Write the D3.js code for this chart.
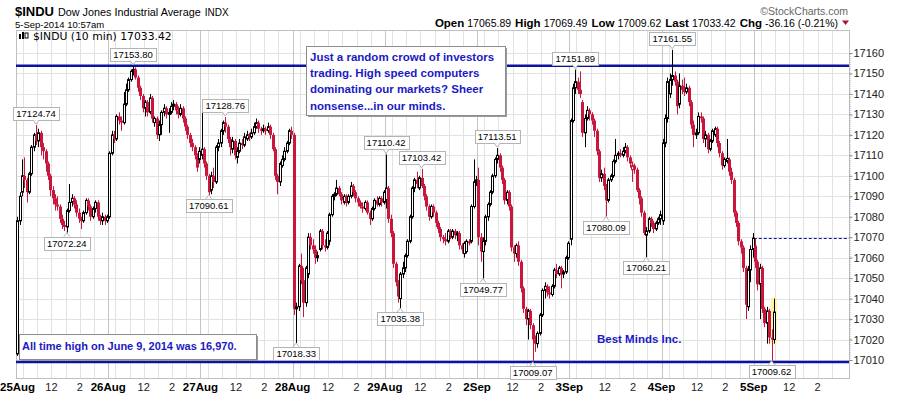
<!DOCTYPE html>
<html>
<head>
<meta charset="utf-8">
<script src="https://cdn.jsdelivr.net/npm/d3@7/dist/d3.min.js"></script>
<style>
  body { margin: 0; background: #fff; }
  svg text { font-family: "Liberation Sans", Arial, sans-serif; }
</style>
</head>
<body>
<div id="chart"></div>
<script>
// ---- data: 10 minute bars, [open, high, low, close] ----
const days = ["25Aug", "26Aug", "27Aug", "28Aug", "29Aug", "2Sep", "3Sep", "4Sep", "5Sep"];
const barsPerDay = 39;
const prevClose = 17001.22;

const aug25 = [
  [17013,17080,17012,17078],[17078,17092,17076,17090],[17092,17108,17090,17100],[17100,17109,17094,17098],
  [17098,17099,17087,17092],[17092,17102,17091,17101],[17101,17115,17100,17114],[17114,17121,17112,17120],
  [17120,17124.74,17115,17117],[17117,17123,17114,17121],[17121,17122,17110,17114],[17114,17116,17108,17112],
  [17112,17113,17102,17106],[17106,17107,17098,17100],[17100,17101,17090,17093],[17093,17095,17086,17089],
  [17089,17091,17083,17086],[17086,17090,17083,17085],[17085,17086,17077,17079],[17079,17081,17074,17076],
  [17076,17078,17073,17075],[17075,17084,17072.24,17083],[17083,17096,17082,17087],[17087,17091,17085,17089],
  [17089,17090,17084,17086],[17086,17088,17080,17082],[17082,17084,17077,17079],[17079,17080,17074,17078],
  [17078,17083,17077,17082],[17082,17089,17081,17088],[17088,17089,17083,17085],[17085,17086,17078,17080],
  [17080,17085,17079,17084],[17084,17088,17082,17087],[17087,17088,17078,17080],[17080,17081,17076,17078],
  [17078,17082,17076,17080],[17080,17081,17076,17078],[17078,17081,17077,17080]
];
const aug26 = [
  [17080,17112,17079,17111],[17111,17122,17110,17120],[17120,17122,17116,17118],[17118,17130,17117,17129],
  [17129,17131,17125,17127],[17127,17129,17122,17126],[17126,17141,17125,17135],[17135,17145,17134,17142],
  [17142,17148,17141,17147],[17147,17152,17146,17151],[17151,17153.80,17149,17152],[17152,17153,17147,17148],
  [17148,17149,17141,17143],[17143,17144,17137,17139],[17139,17140,17131,17133],[17133,17137,17129,17136],
  [17136,17137,17129,17131],[17131,17140,17130,17138],[17138,17139,17126,17128],[17126,17129,17124,17128],
  [17128,17129,17118,17120],[17120,17127,17117,17125],[17125,17132,17120,17131],[17131,17135,17129,17133],
  [17133,17134,17128,17130],[17130,17133,17121,17131],[17131,17136,17130,17134],[17134,17137,17132,17135],
  [17135,17136,17130,17132],[17132,17134,17128,17130],[17130,17135,17129,17133],[17133,17134,17126,17128],
  [17128,17129,17122,17124],[17124,17125,17118,17120],[17120,17121,17114,17116],[17116,17118,17112,17114],
  [17114,17115,17108,17110],[17110,17111,17102,17104],[17108,17114,17106,17112]
];
const aug27 = [
  [17110,17136,17108,17113],[17113,17114,17104,17106],[17106,17107,17098,17100],[17100,17101,17090.61,17092],
  [17093,17102,17091,17100],[17100,17104,17094,17097],[17097,17115,17096,17114],[17114,17118,17112,17116],
  [17116,17123,17114,17122],[17122,17127,17120,17126],[17126,17128.76,17121,17124],[17124,17125,17116,17118],
  [17118,17119,17110,17114],[17113,17119,17111,17117],[17117,17118,17108,17110],[17109,17114,17106,17112],
  [17112,17118,17111,17116],[17116,17118,17113,17115],[17115,17121,17114,17119],[17118,17122,17117,17120],
  [17120,17121,17117,17119],[17119,17123,17118,17121],[17121,17126,17120,17124],[17124,17128,17123,17126],
  [17126,17127,17121,17123],[17123,17124,17120,17122],[17122,17125,17121,17123],[17123,17124,17120,17122],
  [17122,17126,17121,17124],[17124,17125,17118,17120],[17120,17121,17112,17113],[17113,17114,17098,17100],
  [17100,17101,17091,17097],[17097,17107,17095,17106],[17105,17110,17104,17108],[17108,17114,17107,17112],
  [17112,17117,17111,17116],[17116,17123,17115,17122],[17122,17124,17118,17120]
];
const aug28 = [
  [17120,17121,17032,17035],[17035,17038,17018.33,17036],[17036,17057,17034,17056],[17056,17062,17047,17049],
  [17049,17055,17031,17038],[17038,17056,17036,17055],[17052,17072,17050,17070],[17070,17072,17064,17066],
  [17066,17069,17062,17064],[17064,17066,17057,17060],[17060,17063,17058,17061],[17064,17074,17063,17073],
  [17073,17074,17064,17066],[17066,17069,17063,17065],[17065,17073,17064,17072],[17068,17082,17066,17081],
  [17081,17091,17080,17090],[17090,17092,17088,17091],[17091,17098,17090,17094],[17094,17095,17090,17091],
  [17091,17092,17086,17088],[17087,17091,17086,17090],[17090,17091,17085,17087],[17087,17091,17086,17090],
  [17090,17097,17089,17095],[17095,17096,17090,17092],[17092,17093,17087,17089],[17089,17090,17085,17087],
  [17087,17088,17084,17085],[17085,17087,17082,17084],[17084,17088,17083,17087],[17087,17088,17081,17082],
  [17082,17083,17076,17079],[17079,17085,17078,17084],[17084,17089,17083,17088],[17088,17090,17085,17086],
  [17086,17090,17085,17089],[17089,17090,17085,17087],[17087,17093,17086,17092]
];
const aug29 = [
  [17088,17110.42,17084,17094],[17094,17095,17077,17079],[17079,17081,17070,17072],[17072,17073,17055,17057],
  [17057,17058,17046,17048],[17048,17049,17038,17041],[17040,17053,17035.38,17052],[17052,17058,17050,17055],
  [17055,17062,17053,17061],[17061,17069,17060,17068],[17068,17081,17067,17080],[17080,17095,17079,17094],
  [17094,17099,17092,17098],[17098,17102,17094,17096],[17094,17100,17093,17099],[17099,17103.42,17094,17095],
  [17095,17096,17088,17090],[17090,17091,17083,17085],[17085,17086,17078,17080],[17080,17086,17079,17085],
  [17085,17086,17080,17082],[17082,17083,17075,17077],[17077,17078,17072,17074],[17074,17075,17068,17070],
  [17070,17071,17067,17069],[17069,17072,17066,17068],[17068,17074,17067,17073],[17073,17074,17069,17071],
  [17070,17074,17069,17073],[17073,17074,17069,17071],[17071,17073,17068,17072],[17072,17073,17064,17066],
  [17066,17067,17062,17064],[17062,17068,17060,17067],[17063,17069,17062,17068],[17068,17069,17066,17067],
  [17068,17086,17067,17085],[17085,17108,17084,17097],[17097,17100,17095,17098]
];
const sep2 = [
  [17098,17104,17066,17070],[17070,17072,17058,17063],[17063,17070,17049.77,17068],[17068,17081,17066,17080],
  [17080,17087,17078,17086],[17086,17093,17085,17092],[17092,17101,17091,17100],[17100,17109,17099,17108],
  [17108,17113.51,17106,17110],[17110,17111,17102,17104],[17104,17105,17096,17098],[17098,17099,17086,17088],
  [17088,17093,17086,17092],[17092,17093,17083,17085],[17085,17086,17063,17065],[17065,17066,17058,17062],
  [17062,17067,17060,17066],[17066,17068,17056,17058],[17058,17059,17043,17045],[17045,17046,17033,17035],
  [17035,17036,17027,17030],[17030,17035,17020,17034],[17034,17035,17025,17027],[17027,17028,17009.07,17020],
  [17020,17022,17014,17018],[17018,17024,17016,17023],[17023,17033,17022,17032],[17032,17045,17031,17044],
  [17044,17048,17040,17046],[17046,17047,17041,17043],[17043,17046,17040,17042],[17042,17047,17041,17046],
  [17046,17055,17045,17054],[17054,17057,17050,17052],[17052,17056,17051,17055],[17055,17056,17045,17052],
  [17052,17054,17050,17053],[17053,17061,17052,17060],[17060,17068,17059,17067]
];
const sep3 = [
  [17069,17128,17066,17127],[17127,17145,17126,17143],[17143,17151.89,17140,17146],[17146,17148,17140,17142],
  [17142,17151,17138,17140],[17136,17137,17119,17121],[17121,17130,17114,17128],[17128,17134,17127,17132],
  [17132,17133,17127,17130],[17130,17131,17125,17127],[17127,17128,17119,17122],[17122,17123,17110,17112],
  [17112,17113,17097,17099],[17099,17103,17097,17101],[17101,17104,17093,17095],[17095,17096,17080.09,17088],
  [17088,17099,17087,17098],[17098,17101,17097,17100],[17100,17108,17099,17107],[17107,17118,17106,17110],
  [17110,17112,17108,17111],[17111,17113,17109,17110],[17110,17114,17109,17112],[17112,17116,17111,17114],
  [17114,17115,17107,17109],[17109,17110,17104,17106],[17103,17107,17097,17105],[17105,17106,17101,17103],
  [17103,17104,17092,17093],[17093,17094,17086,17089],[17089,17090,17080,17082],[17082,17083,17071,17072],
  [17071,17075,17060.21,17073],[17073,17080,17072,17079],[17079,17080,17075,17077],[17077,17078,17072,17074],
  [17074,17078,17073,17077],[17077,17080,17076,17079],[17079,17083,17076,17081]
];
const sep4 = [
  [17078,17118,17076,17116],[17116,17130,17114,17128],[17128,17148,17126,17146],[17140,17150,17138,17147],
  [17147,17161.55,17144,17149],[17149,17151,17144,17146],[17146,17147,17130,17134],[17135,17150,17133,17144],
  [17144,17147,17140,17142],[17142,17148,17139,17141],[17141,17145,17140,17143],[17143,17144,17134,17136],
  [17136,17137,17123,17125],[17125,17127,17114,17120],[17120,17123,17118,17121],[17121,17131,17120,17129],
  [17129,17131,17126,17128],[17128,17129,17116,17118],[17118,17122,17114,17120],[17120,17121,17111,17113],
  [17113,17118,17112,17117],[17117,17123,17116,17122],[17120,17124,17119,17123],[17123,17124,17114,17116],
  [17116,17117,17109,17111],[17111,17112,17103,17105],[17105,17109,17104,17108],[17107,17118,17106,17108.5],
  [17108,17109,17100,17102],[17102,17104,17096,17098],[17098,17099,17080,17082],[17082,17083,17075,17077],
  [17077,17078,17066,17068],[17068,17069,17062,17065],[17065,17066,17053,17055],[17055,17056,17030,17037],
  [17036,17056,17034,17054],[17054,17066,17048,17064],[17064,17072,17060,17069.58]
];
const sep5 = [
  [17065.89,17069.49,17055,17058],[17058,17059,17044,17047],[17047,17057,17030,17055],[17055,17056,17033,17035],
  [17035,17036,17026,17028],[17028,17036,17018,17034],[17034,17035,17018,17021],[17021,17025,17009.62,17020],
  [17020,17040,17018,17033.42]
];

// bars that carry a high / low value label
const highLabelBars = [8, 49, 88, 156, 171, 203, 236, 277];
const lowLabelBars = [21, 81, 118, 162, 197, 218, 249, 266, 319];

// reference lines
const topLine = 17153.80;
const bottomLine = 17009.07;
const priorClose = 17069.58;

const yTicks = [17010, 17020, 17030, 17040, 17050, 17060, 17070, 17080, 17090,
                17100, 17110, 17120, 17130, 17140, 17150, 17160];
const gridHours = [10, 11, 12, 13, 14, 15];
const hourLabels = [[12, "12"], [14, "2"]];

const noteLines = ["Just a random crowd of investors", "trading. High speed computers",
                   "dominating our markets? Sheer", "nonsense...in our minds."];

// ---- build bar table ----
const bars = [aug25, aug26, aug27, aug28, aug29, sep2, sep3, sep4, sep5]
  .flat()
  .map((d, i) => ({ i: i, o: d[0], h: d[1], l: d[2], c: d[3] }));
bars.forEach((d, i) => { d.pc = i === 0 ? prevClose : bars[i - 1].c; });

// ---- layout ----
const W = 898, H = 396;
const plot = { left: 16, right: 849, top: 30, bottom: 378 };
const red = "#c8163c";
const blue = "#1a1ac4";
const navy = "#0a12a6";

const svg = d3.select("#chart").append("svg")
  .attr("width", W).attr("height", H);

const x = d3.scaleLinear()
  .domain([0, days.length * barsPerDay])
  .range([plot.left, 846]);
const y = d3.scaleLinear()
  .domain([17010, 17160])
  .range([360, 53]);

// slot of a clock hour within a session that opens 9:30
const hourSlot = h => (h * 60 - 570) / 10;

// ---- grid ----
const grid = svg.append("g");
grid.selectAll(".hgrid")
  .data(yTicks)
  .enter().append("line")
  .attr("x1", plot.left).attr("x2", plot.right)
  .attr("y1", d => Math.round(y(d)) + 0.5).attr("y2", d => Math.round(y(d)) + 0.5)
  .attr("stroke", "#e2e2e2");

days.forEach((day, di) => {
  const base = di * barsPerDay;
  gridHours.forEach(h => {
    const px = Math.round(x(base + hourSlot(h))) + 0.5;
    grid.append("line")
      .attr("x1", px).attr("x2", px)
      .attr("y1", plot.top).attr("y2", plot.bottom)
      .attr("stroke", "#e2e2e2");
  });
  const dx = Math.round(x(base)) + 0.5;
  grid.append("line")
    .attr("x1", dx).attr("x2", dx)
    .attr("y1", plot.top).attr("y2", plot.bottom)
    .attr("stroke", "#c4c4c4");
});

// plot frame
svg.append("rect")
  .attr("x", plot.left + 0.5).attr("y", plot.top + 0.5)
  .attr("width", plot.right - plot.left).attr("height", plot.bottom - plot.top)
  .attr("fill", "none").attr("stroke", "#c0c0c0");

// ---- right axis ----
const yAxis = svg.append("g")
  .attr("transform", "translate(" + (plot.right + 0.5) + ",0)")
  .call(d3.axisRight(y).tickValues(yTicks).tickSize(3).tickFormat(d3.format("d")));
yAxis.select(".domain").attr("stroke", "#aaa").attr("stroke-dasharray", "1,1");
yAxis.selectAll(".tick line").attr("stroke", "#888");
yAxis.selectAll("text")
  .attr("x", 4)
  .style("font-family", "'Liberation Sans', Arial, sans-serif")
  .style("font-size", "11px")
  .attr("fill", "#222");

// ---- x labels ----
const xLab = svg.append("g").attr("transform", "translate(0,391)");
days.forEach((day, di) => {
  const base = di * barsPerDay;
  const t = xLab.append("text")
    .attr("x", x(base)).attr("text-anchor", "middle")
    .attr("font-size", "11.5px").attr("font-weight", "bold")
    .text(day);
  // keep the first day label inside the picture
  const half = t.node().getComputedTextLength() / 2;
  if (x(base) - half < 0) t.attr("text-anchor", "start").attr("x", 0);
  hourLabels.forEach(([h, lab]) => {
    xLab.append("text")
      .attr("x", x(base + hourSlot(h))).attr("text-anchor", "middle")
      .attr("font-size", "11px").attr("fill", "#222")
      .text(lab);
  });
});

// ---- reference lines ----
svg.append("line")
  .attr("x1", plot.left).attr("x2", plot.right)
  .attr("y1", y(topLine)).attr("y2", y(topLine))
  .attr("stroke", navy).attr("stroke-width", 2.5);
svg.append("line")
  .attr("x1", plot.left).attr("x2", plot.right)
  .attr("y1", y(bottomLine)).attr("y2", y(bottomLine))
  .attr("stroke", navy).attr("stroke-width", 2.5);
svg.append("line")
  .attr("x1", x(8 * barsPerDay)).attr("x2", plot.right)
  .attr("y1", Math.round(y(priorClose)) + 0.5).attr("y2", Math.round(y(priorClose)) + 0.5)
  .attr("stroke", navy).attr("stroke-dasharray", "3,2");

// highlight on the last bar
const last = bars[bars.length - 1];
svg.append("rect")
  .attr("x", x(last.i + 0.5) - 3).attr("width", 6)
  .attr("y", y(last.h) - 1).attr("height", y(last.l) - y(last.h) + 2)
  .attr("fill", "#fff59a").attr("opacity", 0.9);

// ---- candles ----
const candles = svg.append("g").selectAll("g")
  .data(bars)
  .enter().append("g");

const colorOf = d => d.c >= d.pc ? "#000" : red;

candles.append("line")
  .attr("x1", d => Math.round(x(d.i + 0.5)) + 0.5)
  .attr("x2", d => Math.round(x(d.i + 0.5)) + 0.5)
  .attr("y1", d => y(d.h)).attr("y2", d => y(d.l))
  .attr("stroke", colorOf);

// hollow bodies (close above open) are outlined, the rest are filled
candles.filter(d => d.c > d.o).append("rect")
  .attr("x", d => Math.round(x(d.i + 0.5)) - 0.5)
  .attr("width", 2)
  .attr("y", d => y(d.c))
  .attr("height", d => Math.max(1, y(d.o) - y(d.c)))
  .attr("fill", "#fff")
  .attr("stroke", colorOf);

candles.filter(d => d.c <= d.o).append("rect")
  .attr("x", d => Math.round(x(d.i + 0.5)) - 1)
  .attr("width", 3)
  .attr("y", d => y(d.o))
  .attr("height", d => Math.max(1.5, y(d.c) - y(d.o)))
  .attr("fill", colorOf);

// ---- high / low value labels ----
function valueLabel(d, above) {
  const g = svg.append("g");
  const cx = x(d.i + 0.5);
  const v = above ? d.h : d.l;
  const t = g.append("text")
    .attr("font-size", "9.5px").attr("text-anchor", "middle")
    .attr("x", cx).text(v.toFixed(2));
  const w = t.node().getComputedTextLength() + 6;
  const top = above ? y(v) - 18 : y(v) + 4;
  g.insert("rect", "text")
    .attr("x", Math.round(cx - w / 2) + 0.5).attr("y", Math.round(top) + 0.5)
    .attr("width", Math.round(w)).attr("height", 13)
    .attr("fill", "#fff").attr("stroke", "#b4b4b4");
  const tip = above
    ? [[cx - 3, top + 13], [cx, top + 17], [cx + 3, top + 13]]
    : [[cx - 3, top], [cx, top - 4], [cx + 3, top]];
  g.insert("path", "text")
    .attr("d", d3.line()(tip))
    .attr("fill", "#fff").attr("stroke", "#b4b4b4");
  t.attr("y", top + 10);
}
highLabelBars.forEach(i => valueLabel(bars[i], true));
lowLabelBars.forEach(i => valueLabel(bars[i], false));

// ---- annotations ----
function noteBox(x0, y0, w, h) {
  svg.append("rect").attr("x", x0 + 2).attr("y", y0 + 2).attr("width", w).attr("height", h)
    .attr("fill", "#9a9a9a");
  svg.append("rect").attr("x", x0 + 0.5).attr("y", y0 + 0.5).attr("width", w).attr("height", h)
    .attr("fill", "#fff").attr("stroke", "#8c8c8c");
}
noteBox(306, 46, 199, 69);
noteLines.forEach((line, k) => {
  svg.append("text")
    .attr("x", 310).attr("y", 61 + k * 16.2)
    .attr("font-size", "11.5px").attr("font-weight", "bold").attr("fill", blue)
    .text(line);
});

noteBox(19, 334, 237, 25);
svg.append("text")
  .attr("x", 22).attr("y", 349.5)
  .attr("font-size", "11px").attr("font-weight", "bold").attr("fill", blue)
  .text("All time high on June 9, 2014 was 16,970.");

svg.append("text")
  .attr("x", 597).attr("y", 343)
  .attr("font-size", "11.5px").attr("font-weight", "bold").attr("fill", blue)
  .text("Best Minds Inc.");

// ---- header ----
const head = svg.append("text").attr("x", 15).attr("y", 15.5);
head.append("tspan").attr("font-size", "13px").attr("font-weight", "bold").text("$INDU");
head.append("tspan").attr("font-size", "10.8px").attr("dx", 4).text("Dow Jones Industrial Average");
head.append("tspan").attr("font-size", "10px").attr("dx", 4).text("INDX");

svg.append("text")
  .attr("x", 15).attr("y", 27.5)
  .attr("font-size", "9.5px")
  .text("5-Sep-2014 10:57am");

svg.append("text")
  .attr("x", 848).attr("y", 14.5).attr("text-anchor", "end")
  .attr("font-size", "10.5px").attr("fill", "#666")
  .text("\u00a9StockCharts.com");

const quote = [["Open", "17065.89"], ["High", "17069.49"], ["Low", "17009.62"],
               ["Last", "17033.42"], ["Chg", "-36.16 (-0.21%)"]];
const qt = svg.append("text").attr("x", 838).attr("y", 27).attr("text-anchor", "end");
quote.forEach(([k, v], n) => {
  qt.append("tspan").attr("font-size", "11.5px").attr("font-weight", "bold")
    .attr("dx", n === 0 ? 0 : 4).text(k);
  qt.append("tspan").attr("font-size", "10.5px").attr("dx", 3).text(v);
});
svg.append("path")
  .attr("d", "M842,20.5 L849,20.5 L845.5,25 Z")
  .attr("fill", "#b01030");

// in-chart title with small candle icon
const icon = svg.append("g").attr("transform", "translate(19,32)");
icon.append("rect").attr("x", 0).attr("y", 2).attr("width", 2).attr("height", 5).attr("fill", "#000");
icon.append("rect").attr("x", 3).attr("y", 0).attr("width", 2).attr("height", 7).attr("fill", "#000");
icon.append("rect").attr("x", 6).attr("y", 1).attr("width", 3).attr("height", 5)
  .attr("fill", "#fff").attr("stroke", "#000").attr("stroke-width", 1);
svg.append("text")
  .attr("x", 33).attr("y", 40)
  .attr("font-size", "10.8px")
  .style("font-family", "'DejaVu Sans', Verdana, sans-serif")
  .text("$INDU (10 min) 17033.42");
</script>
</body>
</html>
